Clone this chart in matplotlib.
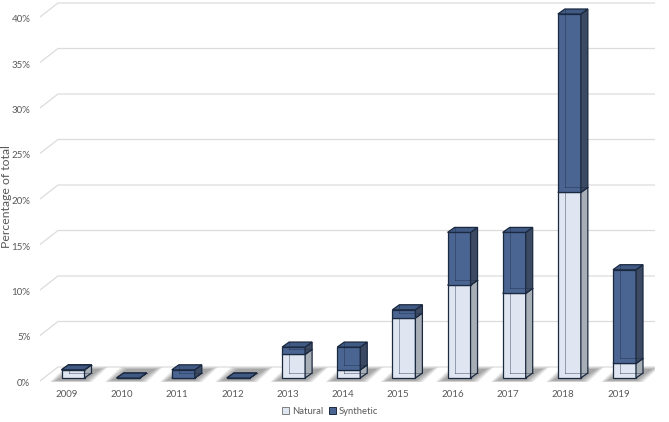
import matplotlib.pyplot as plt
from matplotlib.patches import Polygon, Patch
from matplotlib import transforms

years = ["2009", "2010", "2011", "2012", "2013", "2014", "2015", "2016", "2017", "2018", "2019"]
natural = [0.9, 0.0, 0.0, 0.0, 2.6, 0.9, 6.6, 10.2, 9.3, 20.4, 1.6]
synthetic = [0.0, 0.0, 0.9, 0.0, 0.8, 2.5, 0.9, 5.8, 6.7, 19.6, 10.3]
yticks = [0, 5, 10, 15, 20, 25, 30, 35, 40]

plt.rcParams['font.family'] = ['Lato', 'DejaVu Sans']
txt = '#595959'
grid_c = '#dcdcdc'
edge_c = '#1b2940'
nat_c = {'front': '#dfe6f1', 'side': '#a8aeb5', 'top': '#c9d2df'}
syn_c = {'front': '#4a6591', 'side': '#3b4a62', 'top': '#405a84'}

W, H = 669, 422
fig = plt.figure(figsize=(W / 100, H / 100), dpi=100)
# axes box in pixels: left 40, right 655, top 2, bottom 382
ax = fig.add_axes([40 / W, (H - 382) / H, 615 / W, 380 / H])
# bar centre 0 at x=73px, 55.15px per category; 0% at y=378px, 9.1px per %
px_x = 55.15
px_y = 9.1
ax.set_xlim((40 - 73) / px_x, (655 - 73) / px_x)
ax.set_ylim(-4 / px_y, 376 / px_y)
for s in ax.spines.values():
    s.set_visible(False)

ddx, ddy = 7 / px_x, 5 / px_y        # bar depth
bw = 23 / px_x                        # bar front width

# gridlines: diagonal floor edge on the left, then along the back wall
x_front, x_back, x_end = (38 - 73) / px_x, (58 - 73) / px_x, (655 - 73) / px_x
for v in yticks:
    ax.plot([x_front, x_back, x_end],
            [v - 4.5 / px_y, v + 11 / px_y, v + 11 / px_y],
            color=grid_c, lw=0.9, zorder=1, solid_capstyle='butt')

# soft floor shadows, slanted along the floor depth
sx = 16 / px_x
for i in range(len(years)):
    x0, x1 = i - bw / 2, i + bw / 2
    for k in range(6, -1, -1):
        e = k * 1.2 / px_x
        ev = k * 0.3 / px_y
        fl, fr = x0 - 5 / px_x - e, x1 + e
        yf, yb = -2.5 / px_y - ev, 9 / px_y + ev
        pts = [(fl, yf), (fr, yf), (fr + sx, yb), (fl + sx, yb)]
        ax.add_patch(Polygon(pts, closed=True, facecolor='#3a3a3a', edgecolor='none',
                             alpha=0.08, zorder=2))


def box(i, y0, y1, cols, z):
    x0, x1 = i - bw / 2, i + bw / 2
    front = Polygon([(x0, y0), (x1, y0), (x1, y1), (x0, y1)], closed=True,
                    facecolor=cols['front'], edgecolor=edge_c, lw=0.9, zorder=z)
    side = Polygon([(x1, y0), (x1 + ddx, y0 + ddy), (x1 + ddx, y1 + ddy), (x1, y1)],
                   closed=True, facecolor=cols['side'], edgecolor=edge_c, lw=0.9, zorder=z)
    top = Polygon([(x0, y1), (x1, y1), (x1 + ddx, y1 + ddy), (x0 + ddx, y1 + ddy)],
                  closed=True, facecolor=cols['top'], edgecolor=edge_c, lw=0.9, zorder=z)
    for p in (front, side, top):
        ax.add_patch(p)
    # hidden back edges, seen faintly through the faces
    ax.plot([x0 + ddx, x0 + ddx], [y0 + ddy, y1 + ddy], color=edge_c, lw=0.7,
            alpha=0.4, zorder=z + 0.1)
    ax.plot([x0 + ddx, x1 + ddx], [y0 + ddy, y0 + ddy], color=edge_c, lw=0.7,
            alpha=0.4, zorder=z + 0.1)


for i, (n, s) in enumerate(zip(natural, synthetic)):
    box(i, 0, n, nat_c, 3)
    box(i, n, n + s, syn_c, 4)

# ticks
ax.set_yticks(yticks)
ax.set_yticklabels([f"{v}%" for v in yticks], color=txt, fontsize=7)
ax.set_xticks(range(len(years)))
ax.set_xticklabels(years, color=txt, fontsize=7)
ax.tick_params(axis='both', length=0)
ax.tick_params(axis='y', pad=7)
ax.tick_params(axis='x', pad=6)
for lab in ax.get_yticklabels():
    lab.set_transform(lab.get_transform() + transforms.ScaledTranslation(0, -4.5 / 100, fig.dpi_scale_trans))
for lab in ax.get_xticklabels():
    lab.set_transform(lab.get_transform() + transforms.ScaledTranslation(-6 / 100, 0, fig.dpi_scale_trans))

fig.text(7 / W, 1 - 197 / H, "Percentage of total", rotation=90, ha='center', va='center',
         color=txt, fontsize=8.8)

handles = [Patch(facecolor=nat_c['front'], edgecolor='#7f7f7f', lw=0.7, label='Natural'),
           Patch(facecolor=syn_c['front'], edgecolor=edge_c, lw=0.7, label='Synthetic')]
fig.legend(handles=handles, loc='center', bbox_to_anchor=(330 / W, 1 - 411 / H), ncol=2,
           frameon=False, fontsize=6.8, labelcolor=txt, handlelength=0.75, handleheight=0.75,
           handletextpad=0.25, columnspacing=0.6)

fig.savefig('out.png', dpi=100)
